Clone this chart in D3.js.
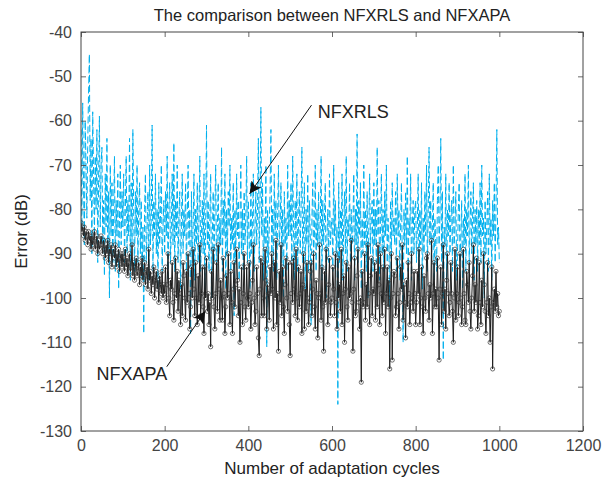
<!DOCTYPE html>
<html>
<head>
<meta charset="utf-8">
<script src="https://cdn.jsdelivr.net/npm/d3@7"></script>
<style>
  body { margin: 0; background: #fff; }
  text { font-family: "Liberation Sans", Arial, Helvetica, sans-serif; }
</style>
</head>
<body>
<div id="chart"></div>
<script>
// adaptation cycle of every stored sample (one every 2 cycles)
var cycles = d3.range(0, 1001, 2);

// NFXRLS error (dB), blue dashed
var rlsError = [
  -62,-84,-56,-74,-88,-60,-70,-82,-66,-54,-45,-78,-64,-90,-58,-72,-86,-68,-80,-62,-92,-74,-59,-84,-70,
  -66,-88,-78,-95,-72,-84,-64,-90,-76,-100,-70,-86,-74,-92,-80,-68,-94,-78,-86,-72,-98,-82,-70,-88,-76,
  -84,-72,-92,-80,-68,-90,-78,-86,-64,-96,-74,-88,-62,-82,-94,-76,-86,-70,-92,-80,-74,-90,-78,-96,-84,
  -108,-80,-72,-92,-84,-76,-96,-70,-88,-82,-61,-94,-78,-86,-72,-90,-80,-98,-74,-88,-82,-70,-94,-84,-78,
  -90,-76,-86,-68,-96,-80,-74,-92,-84,-72,-88,-65,-94,-78,-86,-70,-92,-82,-76,-98,-84,-72,-90,-80,-86,
  -74,-94,-82,-70,-88,-80,-108,-76,-92,-84,-72,-96,-80,-88,-74,-92,-82,-68,-94,-86,-78,-90,-72,-98,-84,
  -61,-88,-78,-94,-82,-72,-100,-86,-76,-92,-80,-70,-96,-84,-74,-90,-82,-88,-66,-94,-78,-86,-72,-98,-80,
  -90,-76,-84,-70,-94,-82,-88,-74,-104,-80,-92,-72,-86,-78,-96,-84,-70,-90,-80,-94,-76,-88,-82,-68,-92,
  -78,-86,-98,-74,-90,-82,-72,-94,-84,-76,-88,-80,-64,-92,-78,-57,-86,-74,-96,-82,-88,-70,-111,-80,-92,
  -84,-76,-62,-90,-80,-94,-72,-86,-78,-96,-82,-70,-88,-84,-74,-92,-80,-100,-76,-88,-82,-94,-70,-86,-78,
  -86,-74,-92,-68,-84,-96,-78,-88,-72,-94,-82,-76,-90,-80,-66,-92,-84,-74,-98,-80,-88,-72,-94,-78,-86,
  -106,-82,-74,-90,-86,-70,-94,-80,-88,-76,-92,-84,-68,-96,-78,-88,-82,-74,-100,-86,-80,-92,-72,-88,-84,
  -82,-94,-70,-86,-78,-90,-84,-124,-74,-92,-80,-88,-72,-96,-84,-76,-90,-68,-94,-82,-86,-74,-92,-80,-88,
  -84,-72,-96,-80,-88,-63,-92,-78,-86,-74,-98,-82,-90,-70,-88,-80,-94,-76,-100,-84,-72,-90,-82,-78,-94,
  -74,-88,-80,-92,-66,-86,-78,-96,-84,-72,-90,-80,-94,-76,-86,-70,-92,-82,-88,-102,-78,-90,-74,-86,-82,
  -88,-76,-94,-72,-86,-80,-96,-84,-74,-92,-110,-80,-88,-76,-90,-68,-94,-82,-86,-72,-96,-84,-78,-90,-80,
  -78,-92,-84,-72,-96,-80,-88,-74,-98,-82,-90,-76,-86,-70,-94,-80,-66,-88,-78,-92,-84,-74,-96,-82,-88,
  -94,-78,-70,-88,-82,-64,-92,-76,-114,-84,-88,-72,-96,-80,-86,-74,-90,-82,-78,-94,-70,-88,-84,-76,-96,
  -90,-80,-74,-92,-86,-78,-98,-82,-88,-72,-94,-80,-86,-70,-92,-84,-76,-90,-82,-74,-96,-80,-88,-78,-94,
  -80,-88,-74,-92,-70,-86,-82,-100,-78,-90,-84,-76,-94,-72,-88,-82,-96,-78,-86,-74,-92,-80,-62,-88,-84,
  -92
];

// NFXAPA error (dB), black with circles
var apaError = [
  -83,-85,-84,-86,-84,-87,-85,-86,-88,-85,-87,-86,-89,-86,-88,-87,-85,-89,-88,-86,-90,-87,-89,-88,-86,
  -88,-90,-87,-89,-91,-88,-90,-87,-92,-89,-90,-88,-93,-90,-89,-91,-88,-93,-90,-92,-89,-94,-91,-90,-93,
  -90,-92,-94,-89,-93,-91,-95,-92,-90,-94,-93,-88,-95,-92,-96,-93,-91,-95,-94,-92,-97,-93,-95,-91,-96,
  -94,-92,-97,-95,-93,-98,-89,-96,-94,-99,-95,-97,-93,-100,-96,-94,-98,-96,-101,-95,-97,-99,-94,-100,-97,
  -99,-93,-101,-97,-90,-100,-104,-96,-98,-92,-101,-105,-99,-91,-100,-94,-103,-96,-99,-106,-97,-104,-92,-95,-100,
  -105,-94,-101,-90,-99,-107,-102,-93,-100,-89,-98,-104,-92,-100,-106,-95,-101,-88,-104,-99,-93,-102,-108,-93,-100,
  -91,-103,-99,-106,-101,-111,-94,-100,-89,-102,-107,-99,-92,-103,-88,-98,-105,-96,-100,-105,-91,-99,-108,-102,-95,
  -100,-90,-99,-106,-94,-101,-108,-98,-92,-102,-97,-89,-96,-104,-98,-110,-101,-93,-106,-99,-90,-102,-105,-93,-100,
  -102,-92,-99,-107,-101,-96,-88,-100,-106,-103,-93,-99,-109,-113,-98,-91,-104,-92,-100,-104,-89,-96,-107,-97,-99,
  -105,-93,-99,-90,-98,-107,-92,-100,-87,-106,-99,-112,-94,-101,-88,-104,-93,-102,-108,-97,-91,-100,-103,-92,-106,
  -113,-99,-92,-101,-91,-98,-104,-89,-100,-105,-93,-102,-99,-94,-108,-97,-90,-107,-98,-103,-92,-100,-106,-101,-94,
  -92,-104,-98,-90,-102,-107,-96,-99,-109,-100,-88,-99,-105,-93,-102,-112,-94,-101,-89,-100,-106,-97,-91,-104,-101,
  -100,-93,-98,-104,-90,-101,-107,-91,-100,-97,-103,-89,-106,-99,-95,-110,-98,-92,-102,-105,-93,-100,-99,-87,-101,
  -112,-98,-91,-104,-103,-95,-89,-101,-107,-100,-119,-94,-102,-101,-90,-105,-97,-102,-88,-99,-106,-95,-91,-104,-98,
  -99,-92,-105,-94,-102,-88,-97,-106,-90,-99,-104,-93,-101,-89,-108,-99,-93,-102,-96,-116,-100,-90,-114,-99,-94,
  -95,-104,-102,-91,-99,-107,-101,-93,-98,-88,-105,-97,-101,-109,-96,-102,-92,-99,-106,-101,-90,-100,-103,-94,-99,
  -106,-101,-94,-99,-89,-106,-100,-93,-102,-108,-95,-100,-103,-91,-90,-99,-105,-97,-100,-87,-108,-99,-92,-102,-98,
  -102,-91,-100,-114,-98,-93,-106,-99,-88,-103,-98,-107,-96,-90,-99,-104,-101,-92,-99,-103,-110,-100,-89,-105,-99,
  -93,-104,-101,-90,-100,-106,-102,-89,-99,-105,-106,-94,-97,-101,-92,-103,-107,-100,-95,-88,-103,-97,-101,-91,-107,
  -104,-92,-101,-106,-96,-102,-90,-97,-103,-108,-101,-92,-104,-100,-110,-102,-93,-116,-101,-98,-103,-94,-102,-99,-104,
  -103
];

var xTicks = [0, 200, 400, 600, 800, 1000, 1200];
var yTicks = [-130, -120, -110, -100, -90, -80, -70, -60, -50, -40];

var margin = {top: 32, right: 30, bottom: 48, left: 81},
    width = 613 - margin.left - margin.right,
    height = 479 - margin.top - margin.bottom;

var svg = d3.select("#chart")
  .append("svg")
    .attr("width", 613)
    .attr("height", 479)
  .append("g")
    .attr("transform", "translate(" + margin.left + "," + margin.top + ")");

var x = d3.scaleLinear().domain([0, 1200]).range([0, width]);
var y = d3.scaleLinear().domain([-130, -40]).range([height, 0]);

svg.append("defs").append("clipPath").attr("id", "clip")
  .append("rect").attr("width", width).attr("height", height);

// series
var plot = svg.append("g").attr("clip-path", "url(#clip)");

var errLine = d3.line()
  .x(function(d, i) { return x(cycles[i]); })
  .y(function(d) { return y(d); });

plot.append("path")
  .datum(rlsError)
  .attr("d", errLine)
  .attr("fill", "none")
  .attr("stroke", "#00b0ee")
  .attr("stroke-width", 1)
  .attr("stroke-dasharray", "7,3");

plot.append("path")
  .datum(apaError)
  .attr("d", errLine)
  .attr("fill", "none")
  .attr("stroke", "#1e1e1e")
  .attr("stroke-width", 1);

plot.selectAll(".apaDot")
  .data(apaError)
  .enter()
  .append("circle")
    .attr("class", "apaDot")
    .attr("cx", function(d, i) { return x(cycles[i]); })
    .attr("cy", function(d) { return y(d); })
    .attr("r", 2.1)
    .attr("fill", "none")
    .attr("stroke", "#333")
    .attr("stroke-width", 0.7);

// axes, ticks pointing inward on all four sides
function styleAxis(g) {
  g.select(".domain").remove();
  g.selectAll(".tick line").attr("stroke", "#444").attr("stroke-width", 0.8);
  g.selectAll(".tick text").attr("fill", "#444").style("font-size", "16px");
}
var plain = function(d) { return String(d); };

svg.append("g")
  .attr("transform", "translate(0," + height + ")")
  .call(d3.axisBottom(x).tickValues(xTicks).tickSize(-5).tickPadding(9).tickFormat(plain))
  .call(styleAxis);

svg.append("g")
  .call(d3.axisTop(x).tickValues(xTicks).tickSize(-5).tickFormat(""))
  .call(styleAxis);

svg.append("g")
  .call(d3.axisLeft(y).tickValues(yTicks).tickSize(-5).tickPadding(9).tickFormat(plain))
  .call(styleAxis);

svg.append("g")
  .attr("transform", "translate(" + width + ",0)")
  .call(d3.axisRight(y).tickValues(yTicks).tickSize(-5).tickFormat(""))
  .call(styleAxis);

svg.append("rect")
  .attr("width", width)
  .attr("height", height)
  .attr("fill", "none")
  .attr("stroke", "#444")
  .attr("stroke-width", 1);

// titles
svg.append("text")
  .attr("x", width / 2)
  .attr("y", -11)
  .attr("text-anchor", "middle")
  .attr("fill", "#222")
  .style("font-size", "16.5px")
  .text("The comparison between NFXRLS and NFXAPA");

svg.append("text")
  .attr("x", width / 2)
  .attr("y", height + 43)
  .attr("text-anchor", "middle")
  .attr("fill", "#222")
  .style("font-size", "17px")
  .text("Number of adaptation cycles");

svg.append("text")
  .attr("transform", "translate(-54," + (height / 2) + ") rotate(-90)")
  .attr("text-anchor", "middle")
  .attr("fill", "#222")
  .style("font-size", "17px")
  .text("Error (dB)");

// annotations with arrows
svg.append("defs").append("marker")
  .attr("id", "head")
  .attr("viewBox", "0 0 10 10")
  .attr("refX", 10).attr("refY", 5)
  .attr("markerWidth", 12).attr("markerHeight", 12)
  .attr("markerUnits", "userSpaceOnUse")
  .attr("orient", "auto")
  .append("path")
    .attr("d", "M0,0 L10,5 L0,10 L2,5 Z")
    .attr("fill", "#111");

function note(label, tx, ty, x1, y1, x2, y2) {
  svg.append("line")
    .attr("x1", x(x1)).attr("y1", y(y1))
    .attr("x2", x(x2)).attr("y2", y(y2))
    .attr("stroke", "#111")
    .attr("stroke-width", 1)
    .attr("marker-end", "url(#head)");
  svg.append("text")
    .attr("x", x(tx)).attr("y", y(ty))
    .attr("fill", "#222")
    .style("font-size", "18px")
    .text(label);
}

note("NFXRLS", 566, -59.5, 551, -56.5, 403, -76.5);
note("NFXAPA", 37, -118.5, 205, -115.5, 297, -103);
</script>
</body>
</html>
